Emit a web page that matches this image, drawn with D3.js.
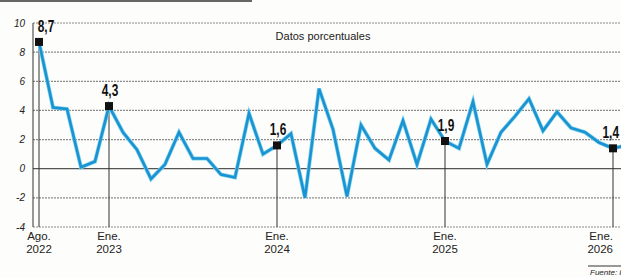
<!DOCTYPE html>
<html>
<head>
    <meta charset="utf-8">
    <title>Datos porcentuales</title>
    <style>
        body {
            margin: 0;
            background: #fdfdfb;
        }
        svg {
            display: block;
        }
        .grid line {
            stroke: #8a8a8a;
            stroke-width: 1.2;
            stroke-dasharray: 2,1;
        }
        .grid line.zero {
            stroke: #555;
            stroke-dasharray: none;
        }
        .ytick {
            font: italic 10px "Liberation Sans", Arial, sans-serif;
            fill: #222;
        }
        .xtick {
            font: 11.5px "Liberation Sans", Arial, sans-serif;
            fill: #222;
        }
        .value-label {
            font: bold 17px "Liberation Sans", Arial, sans-serif;
            fill: #111;
        }
        .subtitle {
            font: 11px "Liberation Sans", Arial, sans-serif;
            fill: #222;
        }
        .source {
            font: italic 8px "Liberation Sans", Arial, sans-serif;
            fill: #222;
        }
    </style>
</head>
<body>
    <div id="chart"></div>
    <script src="https://cdn.jsdelivr.net/npm/d3@7/dist/d3.min.js"></script>
    <script>
        // Monthly series, Aug 2022 - Feb 2026
        const months = [
            "2022-08", "2022-09", "2022-10", "2022-11", "2022-12",
            "2023-01", "2023-02", "2023-03", "2023-04", "2023-05", "2023-06",
            "2023-07", "2023-08", "2023-09", "2023-10", "2023-11", "2023-12",
            "2024-01", "2024-02", "2024-03", "2024-04", "2024-05", "2024-06",
            "2024-07", "2024-08", "2024-09", "2024-10", "2024-11", "2024-12",
            "2025-01", "2025-02", "2025-03", "2025-04", "2025-05", "2025-06",
            "2025-07", "2025-08", "2025-09", "2025-10", "2025-11", "2025-12",
            "2026-01", "2026-02"
        ];
        const values = [
            8.7, 4.2, 4.1, 0.1, 0.5,
            4.3, 2.5, 1.3, -0.7, 0.3, 2.5,
            0.7, 0.7, -0.4, -0.6, 3.8, 1.0,
            1.6, 2.4, -2.0, 5.5, 2.7, -1.9,
            3.0, 1.4, 0.6, 3.3, 0.3, 3.4,
            1.9, 1.4, 4.6, 0.3, 2.5, 3.6,
            4.8, 2.6, 3.9, 2.8, 2.5, 1.8,
            1.4, 1.6
        ];

        // Highlighted months (marker + label + drop line)
        const highlightMonths = ["2022-08", "2023-01", "2024-01", "2025-01", "2026-01"];
        const tickTop = ["Ago.", "Ene.", "Ene.", "Ene.", "Ene."];
        const tickBottom = ["2022", "2023", "2024", "2025", "2026"];

        const yTicks = [-4, -2, 0, 2, 4, 6, 8, 10];

        const W = 621, H = 277;

        const svg = d3.select("#chart").append("svg")
            .attr("width", W)
            .attr("height", H);

        // month index -> pixel, 14px per month
        const x = d3.scalePoint()
            .domain(months)
            .range([39, 627]);

        const y = d3.scaleLinear()
            .domain([-4, 10])
            .range([227, 23]);

        const comma = v => d3.format(".1f")(v).replace(".", ",");
        const left = 33;
        const lastTick = highlightMonths[highlightMonths.length - 1];

        // heading rule at the top
        svg.append("line")
            .attr("x1", 0).attr("x2", 252)
            .attr("y1", 1).attr("y2", 1)
            .attr("stroke", "#333")
            .attr("stroke-width", 1.5);

        // horizontal grid
        svg.append("g").attr("class", "grid")
            .selectAll("line")
            .data(yTicks)
            .join("line")
            .attr("class", d => d === 0 ? "zero" : null)
            .attr("x1", left).attr("x2", W)
            .attr("y1", d => y(d)).attr("y2", d => y(d));

        // y axis line
        svg.append("line")
            .attr("x1", left).attr("x2", left)
            .attr("y1", y(10)).attr("y2", y(-4))
            .attr("stroke", "#333");

        svg.selectAll(".ytick")
            .data(yTicks)
            .join("text")
            .attr("class", "ytick")
            .attr("x", 25)
            .attr("y", d => y(d) + 3.5)
            .attr("text-anchor", "end")
            .text(d => d);

        svg.append("text")
            .attr("class", "subtitle")
            .attr("x", 323)
            .attr("y", 40)
            .attr("text-anchor", "middle")
            .text("Datos porcentuales");

        const series = months.map((m, i) => ({ month: m, value: values[i] }));
        const marked = series.filter(d => highlightMonths.includes(d.month));

        // drop lines from highlighted points
        svg.selectAll(".drop")
            .data(marked)
            .join("line")
            .attr("class", "drop")
            .attr("x1", d => x(d.month)).attr("x2", d => x(d.month))
            .attr("y1", d => y(d.value)).attr("y2", y(-4))
            .attr("stroke", "#333")
            .attr("stroke-width", 1);

        // the series line
        const line = d3.line()
            .x(d => x(d.month))
            .y(d => y(d.value));

        svg.append("path")
            .datum(series)
            .attr("fill", "none")
            .attr("stroke", "#7fd3ef")
            .attr("stroke-width", 4)
            .attr("d", line);
        svg.append("path")
            .datum(series)
            .attr("fill", "none")
            .attr("stroke", "#1b93d1")
            .attr("stroke-width", 2.6)
            .attr("d", line);

        // square markers
        svg.selectAll(".marker")
            .data(marked)
            .join("rect")
            .attr("class", "marker")
            .attr("x", d => x(d.month) - 4)
            .attr("y", d => y(d.value) - 4)
            .attr("width", 8)
            .attr("height", 8)
            .attr("fill", "#111");

        // condensed bold value labels (narrowed with a horizontal scale)
        svg.selectAll(".value-label")
            .data(marked)
            .join("text")
            .attr("class", "value-label")
            .attr("text-anchor", d => d.month === lastTick ? "end" : "middle")
            .attr("transform", (d, i) => {
                let dx = i === 0 ? 7 : 1;
                if (d.month === lastTick) dx = 6;
                return `translate(${x(d.month) + dx},${y(d.value) - 10}) scale(0.7,1)`;
            })
            .text(d => comma(d.value));

        // x tick labels, two lines; the last one is kept inside the frame
        const xl = svg.selectAll(".xtick")
            .data(highlightMonths)
            .join("text")
            .attr("class", "xtick")
            .attr("text-anchor", d => d === lastTick ? "end" : "middle");
        xl.append("tspan")
            .attr("x", d => d === lastTick ? x(d) : x(d))
            .attr("y", 240)
            .text((d, i) => tickTop[i]);
        xl.append("tspan")
            .attr("x", d => x(d))
            .attr("y", 253)
            .text((d, i) => tickBottom[i]);

        // source note, cut at the right edge
        svg.append("line")
            .attr("x1", 588).attr("x2", W)
            .attr("y1", 266).attr("y2", 266)
            .attr("stroke", "#333");
        svg.append("text")
            .attr("class", "source")
            .attr("x", 590)
            .attr("y", 275)
            .text("Fuente: INE");
    </script>
</body>
</html>
